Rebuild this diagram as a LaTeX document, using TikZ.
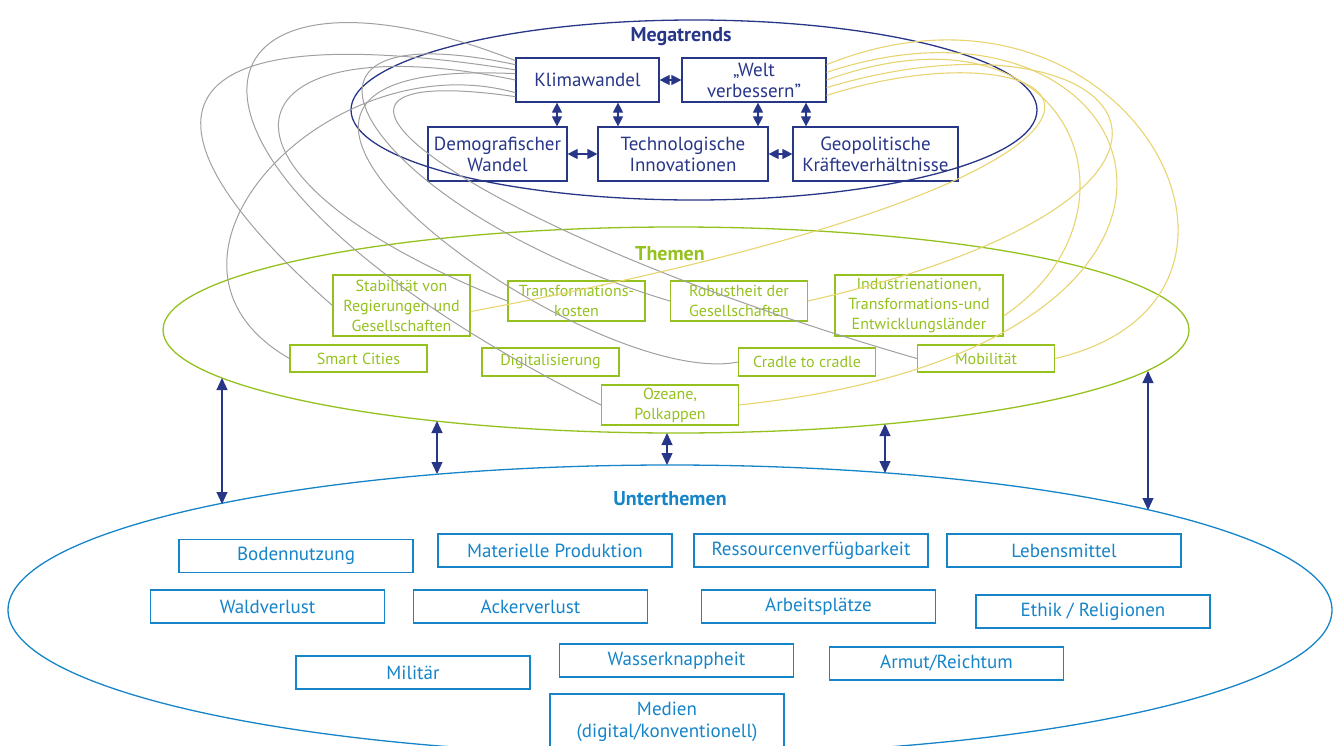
\documentclass[tikz,border=0pt]{standalone}
\usepackage{fontspec}
\setmainfont{PT Sans}
\usepackage{tikz}
\usetikzlibrary{arrows.meta,
	calc,
	shapes}

\definecolor{navy}{RGB}{40,54,136}
\definecolor{themegreen}{RGB}{149,193,31}
\definecolor{subblue}{RGB}{22,132,200}
\definecolor{linkgray}{RGB}{160,160,160}
\definecolor{linkyellow}{RGB}{232,212,112}

\begin{document}
\begin{tikzpicture}[x=1pt,y=-1pt]
        \tikzstyle{trend}=[draw=navy,line width=1.2pt,text=navy,align=center,inner sep=0pt,font=\fontsize{19}{21}\selectfont]
        \tikzstyle{thema}=[draw=themegreen,line width=1.2pt,text=themegreen,align=center,inner sep=0pt,minimum width=137pt,font=\fontsize{16}{20}\selectfont]
        \tikzstyle{unter}=[draw=subblue,line width=1.2pt,text=subblue,align=center,inner sep=0pt,minimum width=234pt,minimum height=33pt,font=\fontsize{19}{22}\selectfont]
        \tikzstyle{ring}=[ellipse,line width=1.3pt,inner sep=0pt]
        \tikzstyle{ringtitle}=[font=\bfseries\fontsize{20}{22}\selectfont]
        \tikzstyle{pfeil}=[navy,line width=1.2pt,{Triangle[length=10pt,width=10pt]}-{Triangle[length=10pt,width=10pt]}]
        \tikzstyle{grau}=[linkgray,line width=1pt]
        \tikzstyle{gelb}=[linkyellow,line width=1.1pt]

        \clip (0,0) rectangle (1333,745);

        % die drei Ebenen
        \node[ring,draw=navy,minimum width=686pt,minimum height=180pt] (megaring) at (694,110) {};
        \node[ring,draw=themegreen,minimum width=1026pt,minimum height=206pt] (themenring) at (676,330) {};
        \node[ring,draw=subblue,minimum width=1324pt,minimum height=290pt] (unterring) at (670,610) {};
        \node[ringtitle,text=navy] (megatitel) at (681,37) {Megatrends};
        \node[ringtitle,text=themegreen] (thementitel) at (670,254) {Themen};
        \node[ringtitle,text=subblue] (untertitel) at (670,499) {Unterthemen};

        % Megatrends
        \node[trend,minimum width=143pt,minimum height=44pt] (klima) at (587.5,80) {Klimawandel};
        \node[trend,minimum width=144pt,minimum height=44pt] (welt) at (754,80) {„Welt\\verbessern”};
        \node[trend,minimum width=139pt,minimum height=54pt] (demo) at (497.5,154) {Demografischer\\Wandel};
        \node[trend,minimum width=170pt,minimum height=54pt] (tech) at (683,154) {Technologische\\Innovationen};
        \node[trend,minimum width=165pt,minimum height=54pt] (geo) at (875.5,154) {Geopolitische\\Kräfteverhältnisse};

        % Themen
        \node[thema,minimum height=61pt] (stab) at (401.5,305.5) {Stabilität von\\Regierungen und\\Gesellschaften};
        \node[thema,minimum height=40pt] (trans) at (576.5,301) {Transformations-\\kosten};
        \node[thema,minimum height=40pt] (robust) at (739,301) {Robustheit der\\Gesellschaften};
        \node[thema,minimum width=168pt,minimum height=61pt] (indu) at (919,305.5) {Industrienationen,\\Transformations-und\\Entwicklungsländer};
        \node[thema,minimum height=27pt] (smart) at (358.5,358.5) {Smart Cities};
        \node[thema,minimum height=28pt] (digi) at (550.5,362) {Digitalisierung};
        \node[thema,minimum height=28pt] (cradle) at (807,362) {Cradle to cradle};
        \node[thema,minimum height=27pt] (mobil) at (986,358.5) {Mobilität};
        \node[thema,minimum height=40pt] (ozean) at (670,405) {Ozeane,\\Polkappen};

        % Unterthemen
        \node[unter] (boden) at (296,556) {Bodennutzung};
        \node[unter] (mat) at (555,550.5) {Materielle Produktion};
        \node[unter] (ress) at (811,550.5) {Ressourcenverfügbarkeit};
        \node[unter] (lebens) at (1064,550.5) {Lebensmittel};
        \node[unter] (wald) at (267.5,606.5) {Waldverlust};
        \node[unter] (acker) at (530.5,606.5) {Ackerverlust};
        \node[unter] (arbeit) at (818.5,606.5) {Arbeitsplätze};
        \node[unter] (ethik) at (1093,611.5) {Ethik / Religionen};
        \node[unter] (militaer) at (413,672.5) {Militär};
        \node[unter] (wasser) at (676.5,660.5) {Wasserknappheit};
        \node[unter] (armut) at (946.5,663.5) {Armut/Reichtum};
        \node[unter,minimum height=56pt] (medien) at (667,722) {Medien\\(digital/konventionell)};

        % Verbindungen Klimawandel -> Themen
        \draw[grau] (klima.172) .. controls +(-380,-60) and +(-200,-175) .. (stab.west);
        \draw[grau] (klima.190) .. controls +(-186,-52) and +(-170,-98) .. (smart.west);
        \draw[grau] (klima.180) .. controls +(-290,-60) and +(-330,-130) .. (trans.west);
        \draw[grau] (klima.165) .. controls +(-330,-130) and +(-500,-250) .. (ozean.west);
        \draw[grau] (klima.175) .. controls +(-400,-20) and +(-150,30) .. (cradle.west);
        \draw[grau] (klima.168) .. controls +(-280,-60) and +(-300,-90) .. (robust.west);
        \draw[grau] (klima.193) .. controls +(-280,-40) and +(-450,-130) .. (mobil.west);

        % Verbindungen "Welt verbessern" -> Themen
        \draw[gelb] (welt.12) .. controls +(300,-120) and +(260,-60) .. (mobil.east);
        \draw[gelb] (welt.6) .. controls +(330,-110) and +(560,-60) .. (ozean.east);
        \draw[gelb] (welt.0) .. controls +(250,-90) and +(150,-100) .. (indu.-7);
        \draw[gelb] (welt.-6) .. controls +(300,-90) and +(480,-110) .. (robust.east);
        \draw[gelb] (welt.-12) .. controls +(250,-80) and +(800,-150) .. (stab.-5);

        % Pfeile zwischen den Megatrends
        \coordinate (kd) at (557,0);
        \coordinate (kt) at (618,0);
        \coordinate (wt) at (758,0);
        \coordinate (wg) at (806,0);
        \draw[pfeil] (klima.east) -- (welt.west);
        \draw[pfeil] (demo.east) -- (tech.west);
        \draw[pfeil] (tech.east) -- (geo.west);
        \draw[pfeil] (kd |- klima.south) -- (kd |- demo.north);
        \draw[pfeil] (kt |- klima.south) -- (kt |- tech.north);
        \draw[pfeil] (wt |- welt.south) -- (wt |- tech.north);
        \draw[pfeil] (wg |- welt.south) -- (wg |- geo.north);

        % Pfeile Themen <-> Unterthemen
        \foreach \i/\x/\ya/\yb in {1/222/378/504, 2/437/421/474, 3/667/433/465, 4/885/424/473, 5/1148/371/510} {
          \coordinate (th\i) at (\x,\ya);
          \coordinate (ut\i) at (\x,\yb);
          \draw[pfeil,{Triangle[length=12pt,width=11pt]}-{Triangle[length=12pt,width=11pt]}] (th\i) -- (ut\i);
        }
\end{tikzpicture}
\end{document}
